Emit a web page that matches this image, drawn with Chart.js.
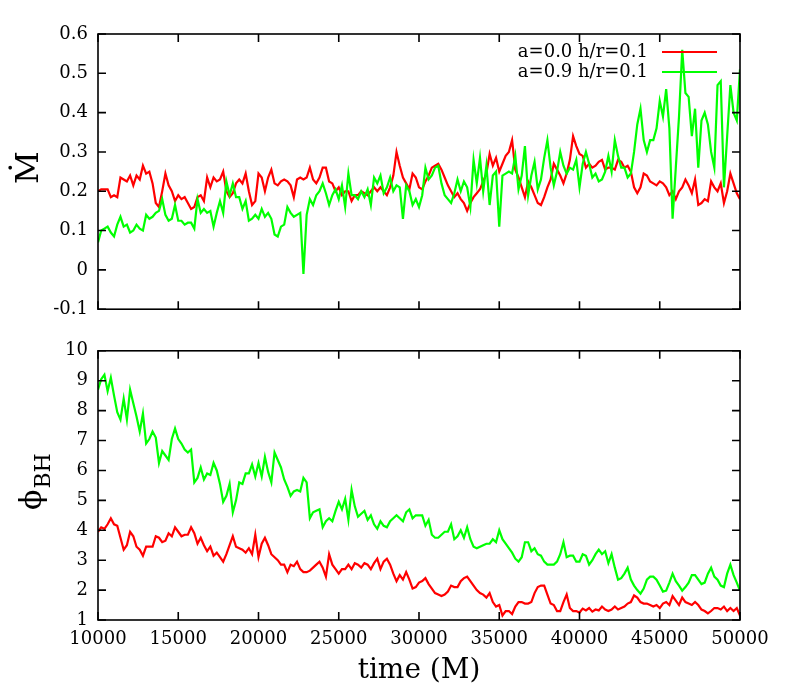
<!DOCTYPE html>
<html>
<head>
<meta charset="utf-8">
<script src="https://cdn.jsdelivr.net/npm/chart.js@4/dist/chart.umd.min.js"></script>
<style>
  html, body { margin: 0; padding: 0; background: #fff; }
  #wrap { position: relative; width: 789px; height: 690px; }
  #topChart { position: absolute; left: 0; top: 0; }
  #botChart { position: absolute; left: 0; top: 330px; }
</style>
</head>
<body>
<div id="wrap">
  <canvas id="topChart" width="789" height="330" style="width:789px;height:330px"></canvas>
  <canvas id="botChart" width="789" height="360" style="width:789px;height:360px"></canvas>
</div>
<script>
// sampling of the time series (every 200 M from 10000 M)
const T0 = 10000, DT = 200;

const labels = ["a=0.0 h/r=0.1", "a=0.9 h/r=0.1"];
const timeTicks = [10000, 15000, 20000, 25000, 30000, 35000, 40000, 45000, 50000];
const mdotTicks = [-0.1, 0, 0.1, 0.2, 0.3, 0.4, 0.5, 0.6];
const phiTicks = [1, 2, 3, 4, 5, 6, 7, 8, 9, 10];

// accretion rate, a = 0.0
const mdotA0 = [
  0.20,0.205,0.205,0.205,0.185,0.19,0.185,0.235,0.23,0.225,
  0.24,0.215,0.24,0.23,0.265,0.245,0.25,0.22,0.17,0.16,
  0.2,0.245,0.215,0.2,0.175,0.19,0.18,0.185,0.17,0.155,
  0.16,0.185,0.19,0.175,0.235,0.21,0.235,0.225,0.23,0.25,
  0.2,0.185,0.195,0.22,0.23,0.22,0.245,0.2,0.165,0.175,
  0.245,
  0.235,0.2,0.235,0.255,0.22,0.215,0.225,0.23,0.225,0.215,
  0.185,0.23,0.235,0.23,0.235,0.26,0.23,0.22,0.235,0.26,
  0.26,0.225,0.22,0.2,0.21,0.19,0.2,0.2,0.175,0.19,
  0.19,0.2,0.195,0.19,0.2,0.21,0.2,0.21,0.2,0.19,
  0.21,0.24,0.3,0.265,0.235,0.22,0.205,0.245,0.235,0.21,
  0.205,0.225,0.24,0.26,0.265,0.27,0.255,0.235,0.215,0.2,
  0.185,0.195,0.18,0.17,0.15,0.17,0.185,0.195,0.205,0.225,
  0.245,0.295,0.265,0.285,0.25,0.27,0.29,0.3,0.33,0.255,
  0.235,0.21,0.185,0.225,0.21,0.19,0.17,0.165,0.185,0.21,
  0.23,0.27,0.255,0.24,0.22,0.245,0.28,0.34,0.315,0.295,
  0.29,0.26,0.27,0.26,0.265,0.275,0.28,0.255,0.26,0.26,
  0.255,0.28,0.275,0.26,0.265,0.25,0.21,0.195,0.21,0.245,
  0.24,0.225,0.22,0.215,0.225,0.22,0.21,0.19,0.2,0.18,
  0.2,0.21,0.23,0.215,0.195,0.23,0.165,0.17,0.18,0.175,
  0.225,0.21,0.2,0.22,0.17,0.2,0.245,0.22,0.195,0.18
];

// accretion rate, a = 0.9
const mdotA9 = [
  0.07,0.1,0.105,0.11,0.095,0.085,0.115,0.135,0.11,0.115,
  0.095,0.1,0.115,0.105,0.1,0.14,0.13,0.135,0.145,0.15,
  0.18,0.14,0.125,0.13,0.165,0.125,0.125,0.115,0.12,0.12,
  0.105,0.18,0.145,0.155,0.145,0.15,0.11,0.145,0.175,0.145,
  0.225,0.19,0.22,0.185,0.185,0.155,0.175,0.125,0.13,0.14,
  0.13,
  0.155,0.135,0.145,0.13,0.09,0.085,0.11,0.115,0.16,0.145,
  0.135,0.14,0.145,-0.01,0.14,0.18,0.165,0.19,0.2,0.22,
  0.195,0.165,0.19,0.205,0.18,0.215,0.16,0.245,0.19,0.19,
  0.18,0.2,0.185,0.205,0.165,0.235,0.22,0.24,0.195,0.21,
  0.235,0.2,0.215,0.21,0.13,0.215,0.2,0.165,0.18,0.16,
  0.19,0.26,0.23,0.24,0.26,0.265,0.22,0.19,0.18,0.17,
  0.195,0.23,0.2,0.225,0.21,0.16,0.28,0.22,0.285,0.2,
  0.265,0.165,0.24,0.25,0.11,0.24,0.245,0.25,0.245,0.29,
  0.205,0.24,0.315,0.19,0.24,0.275,0.205,0.23,0.285,0.33,
  0.26,0.215,0.25,0.3,0.265,0.245,0.26,0.255,0.28,0.21,
  0.27,0.3,0.27,0.235,0.245,0.225,0.23,0.25,0.29,0.25,
  0.33,0.29,0.26,0.26,0.235,0.245,0.3,0.37,0.41,0.33,
  0.3,0.33,0.33,0.36,0.43,0.39,0.46,0.36,0.13,0.26,
  0.39,0.56,0.45,0.44,0.34,0.41,0.26,0.38,0.4,0.37,
  0.3,0.26,0.47,0.48,0.21,0.34,0.47,0.4,0.38,0.51
];

// magnetic flux on the hole, a = 0.0
const phiA0 = [
  3.95,4.1,4.05,4.2,4.4,4.2,4.15,3.75,3.35,3.5,
  3.95,3.8,3.45,3.35,3.15,3.45,3.45,3.45,3.8,3.75,
  3.6,3.65,3.9,3.8,4.1,3.95,3.8,3.85,3.85,4.1,
  3.9,3.55,3.75,3.5,3.3,3.45,3.15,3.25,3.1,2.95,
  3.2,3.5,3.8,3.45,3.4,3.35,3.25,3.4,3.2,3.85,
  3.1,
  3.55,3.75,3.5,3.2,3.1,3.0,2.85,2.85,2.6,2.85,
  2.8,2.95,2.7,2.6,2.6,2.65,2.75,2.85,2.95,2.75,
  2.45,3.2,2.85,2.7,2.55,2.7,2.7,2.85,2.7,2.9,
  2.85,2.75,2.9,2.85,2.7,2.9,3.05,2.7,2.95,3.05,
  2.85,2.55,2.3,2.5,2.35,2.6,2.35,2.05,2.1,2.25,
  2.3,2.4,2.2,2.05,1.9,1.85,1.8,1.85,1.95,2.15,
  2.1,2.1,2.3,2.4,2.45,2.3,2.15,2.0,1.9,1.85,
  1.75,1.9,1.6,1.45,1.5,1.15,1.3,1.3,1.2,1.45,
  1.6,1.6,1.55,1.55,1.6,1.9,2.1,2.15,2.15,1.85,
  1.55,1.5,1.3,1.3,1.6,1.85,1.4,1.3,1.3,1.25,
  1.38,1.32,1.4,1.28,1.35,1.32,1.45,1.35,1.3,1.35,
  1.45,1.35,1.4,1.45,1.55,1.6,1.82,1.75,1.6,1.55,
  1.55,1.5,1.45,1.5,1.4,1.55,1.6,1.5,1.8,1.65,
  1.5,1.75,1.6,1.55,1.5,1.6,1.5,1.35,1.3,1.22,
  1.3,1.4,1.4,1.35,1.45,1.3,1.4,1.3,1.4,1.15
];

// magnetic flux on the hole, a = 0.9
const phiA9 = [
  8.7,9.05,9.2,8.65,9.1,8.5,7.95,7.7,8.4,7.7,
  8.7,8.25,7.8,7.3,7.9,6.9,7.05,7.3,7.1,6.25,
  6.65,6.5,6.35,7.05,7.4,7.05,6.9,6.7,6.6,6.7,
  5.6,5.75,6.1,5.7,5.9,5.85,6.25,6.0,5.55,4.95,
  5.15,5.55,4.6,5.0,5.6,5.55,5.9,5.9,6.2,5.8,
  6.25,
  5.8,6.45,5.95,5.6,6.6,6.35,6.1,5.7,5.45,5.15,
  5.3,5.35,5.3,5.75,5.6,4.4,4.6,4.65,4.7,4.1,
  4.3,4.4,4.3,4.65,4.95,4.7,5.05,4.35,5.35,4.8,
  4.45,4.55,4.65,4.35,4.5,4.2,4.05,4.3,4.15,4.1,
  4.3,4.4,4.5,4.4,4.3,4.6,4.7,4.4,4.5,4.5,
  4.5,4.15,4.35,3.85,3.75,3.75,3.85,3.95,3.95,4.2,
  3.7,3.8,4.0,3.75,4.1,3.7,3.45,3.4,3.45,3.5,
  3.55,3.55,3.7,3.6,4.0,3.7,3.55,3.4,3.25,3.05,
  2.95,3.1,3.6,3.6,3.3,3.4,3.2,3.15,2.95,2.85,
  2.85,2.85,2.95,3.2,3.6,3.1,3.15,3.15,2.95,2.95,
  3.2,3.15,2.85,3.0,3.2,3.35,3.2,3.3,2.9,3.2,
  2.75,2.35,2.4,2.55,2.75,2.35,2.15,2.0,1.88,2.05,
  2.35,2.45,2.45,2.35,2.15,1.95,1.98,2.25,2.55,2.3,
  2.15,1.98,2.1,2.25,2.5,2.5,2.35,2.2,2.25,2.55,
  2.75,2.45,2.35,2.15,2.1,2.55,2.85,2.5,2.25,1.98
];

const FONT = "'DejaVu Serif', serif";
const RED = "#ff0000";
const GREEN = "#00ff00";

const toPoints = arr => arr.map((v, i) => ({ x: T0 + i * DT, y: v }));

// gnuplot-like box with ticks pointing inwards on all four sides
const framePlugin = {
  id: "frame",
  afterDraw(chart) {
    const { ctx, chartArea: a, scales: { x, y } } = chart;
    const len = 8;
    ctx.save();
    ctx.strokeStyle = "#000";
    ctx.lineWidth = 1.6;
    ctx.beginPath();
    x.ticks.forEach(t => {
      const px = x.getPixelForValue(t.value);
      ctx.moveTo(px, a.top); ctx.lineTo(px, a.top + len);
      ctx.moveTo(px, a.bottom); ctx.lineTo(px, a.bottom - len);
    });
    y.ticks.forEach(t => {
      const py = y.getPixelForValue(t.value);
      ctx.moveTo(a.left, py); ctx.lineTo(a.left + len, py);
      ctx.moveTo(a.right, py); ctx.lineTo(a.right - len, py);
    });
    ctx.stroke();
    ctx.strokeRect(a.left, a.top, a.right - a.left, a.bottom - a.top);
    ctx.restore();
  }
};

// key in the upper right corner of the top panel
const keyPlugin = {
  id: "key",
  afterDraw(chart, args, opts) {
    if (!opts.show) return;
    const { ctx } = chart;
    ctx.save();
    ctx.font = "18px " + FONT;
    ctx.textAlign = "right";
    ctx.textBaseline = "middle";
    chart.data.datasets.forEach((ds, i) => {
      const yy = 52 + i * 20;
      ctx.fillStyle = "#000";
      ctx.fillText(ds.label, 648, yy);
      ctx.strokeStyle = ds.borderColor;
      ctx.lineWidth = 2.2;
      ctx.beginPath();
      ctx.moveTo(662, yy);
      ctx.lineTo(717, yy);
      ctx.stroke();
    });
    ctx.restore();
  }
};

// rotated y titles (with a subscript for the flux)
const yTitlePlugin = {
  id: "ytitle",
  afterDraw(chart, args, opts) {
    const { ctx } = chart;
    ctx.save();
    ctx.fillStyle = "#000";
    ctx.translate(opts.x, opts.y);
    ctx.rotate(-Math.PI / 2);
    ctx.textBaseline = "alphabetic";
    ctx.textAlign = "left";
    ctx.font = opts.size + "px " + FONT;
    ctx.fillText(opts.main, 0, 0);
    if (opts.sub) {
      const w = ctx.measureText(opts.main).width;
      ctx.font = opts.subSize + "px " + FONT;
      ctx.fillText(opts.sub, w + 1, 9);
    }
    ctx.restore();
  }
};

function makeChart(id, a, b, yMin, yMax, yTickVals, opts) {
  return new Chart(document.getElementById(id), {
    type: "line",
    data: {
      datasets: [
        { label: labels[0], data: toPoints(a), borderColor: RED, borderWidth: 2.2, order: 1 },
        { label: labels[1], data: toPoints(b), borderColor: GREEN, borderWidth: 2.2, order: 0 }
      ]
    },
    options: {
      responsive: false,
      animation: false,
      parsing: false,
      elements: { point: { radius: 0 }, line: { tension: 0 } },
      layout: { padding: { left: 0, right: 49, top: opts.padTop, bottom: 0 } },
      plugins: {
        legend: { display: false },
        tooltip: { enabled: false },
        key: { show: opts.key },
        ytitle: opts.title
      },
      scales: {
        x: {
          type: "linear",
          min: 10000,
          max: 50000,
          afterBuildTicks: s => { s.ticks = timeTicks.map(v => ({ value: v })); },
          afterFit: s => { s.height = opts.xHeight; },
          grid: { display: false, drawTicks: false },
          border: { display: false },
          ticks: {
            display: opts.xLabels,
            autoSkip: false,
            maxRotation: 0,
            padding: 9,
            color: "#000",
            font: { family: FONT, size: 18 },
            callback: v => String(v)
          },
          title: {
            display: opts.xLabels,
            text: "time (M)",
            color: "#000",
            font: { family: FONT, size: 28 },
            padding: { top: 0, bottom: 2 }
          }
        },
        y: {
          type: "linear",
          min: yMin,
          max: yMax,
          afterBuildTicks: s => { s.ticks = yTickVals.map(v => ({ value: v })); },
          afterFit: s => { s.width = 98; },
          grid: { display: false, drawTicks: false },
          border: { display: false },
          ticks: {
            padding: 10,
            color: "#000",
            font: { family: FONT, size: 18 },
            callback: v => String(v)
          }
        }
      }
    },
    plugins: [framePlugin, keyPlugin, yTitlePlugin]
  });
}

makeChart("topChart", mdotA0, mdotA9, -0.1, 0.6, mdotTicks, {
  padTop: 34, xHeight: 20, xLabels: false, key: true,
  title: { x: 38, y: 184, main: "\u1E40", size: 32 }
});

makeChart("botChart", phiA0, phiA9, 1, 10, phiTicks, {
  padTop: 15, xHeight: 70, xLabels: true, key: false,
  title: { x: 41, y: 180, main: "\u03D5", size: 30, sub: "BH", subSize: 22 }
});
</script>
</body>
</html>
